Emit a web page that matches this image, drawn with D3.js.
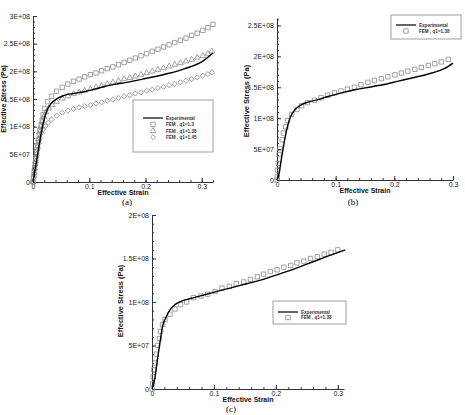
<!DOCTYPE html>
<html>
<head>
<meta charset="utf-8">
<script src="https://cdn.jsdelivr.net/npm/d3@7"></script>
<style>
body { margin: 0; background: #fff; }
svg { display: block; background: #fff; font-family: "Liberation Sans", Arial, sans-serif; }
</style>
</head>
<body>
<svg id="chart" width="465" height="415"></svg>
<script>
// ---- panel (a) : [effective strain, effective stress (Pa)]
var expA = [[0,0],[0.003,0.18e8],[0.0066,0.40e8],[0.0125,0.76e8],[0.018,1.06e8],[0.024,1.27e8],[0.03,1.39e8],
    [0.039,1.48e8],[0.054,1.56e8],[0.072,1.60e8],[0.09,1.63e8],[0.114,1.69e8],[0.1375,1.75e8],[0.167,1.80e8],
    [0.2,1.87e8],[0.24,1.96e8],[0.27,2.05e8],[0.3,2.17e8],[0.32,2.33e8]]

var squaresA = [[0,0],[0.001,0.08e8],[0.002,0.17e8],[0.003,0.25e8],[0.004,0.33e8],[0.005,0.42e8],[0.0065,0.54e8],
    [0.008,0.66e8],[0.0095,0.76e8],[0.011,0.86e8],[0.0125,0.94e8],[0.0145,1.03e8],[0.0165,1.12e8],[0.018,1.22e8],
    [0.021,1.33e8],[0.026,1.45e8],[0.033,1.55e8],[0.042,1.64e8],[0.052,1.71e8],[0.062,1.77e8],[0.072,1.82e8],
    [0.082,1.86e8],[0.092,1.90e8],[0.102,1.94e8],[0.112,1.97e8],[0.122,2.01e8],[0.132,2.05e8],[0.142,2.08e8],
    [0.152,2.12e8],[0.162,2.16e8],[0.172,2.20e8],[0.182,2.24e8],[0.192,2.28e8],[0.202,2.32e8],[0.212,2.36e8],
    [0.222,2.40e8],[0.232,2.44e8],[0.242,2.48e8],[0.252,2.52e8],[0.262,2.56e8],[0.272,2.60e8],[0.282,2.65e8],
    [0.292,2.69e8],[0.302,2.74e8],[0.311,2.79e8],[0.32,2.85e8]]

var trianglesA = [[0,0],[0.0015,0.12e8],[0.003,0.25e8],[0.0045,0.37e8],[0.006,0.5e8],[0.008,0.64e8],[0.01,0.78e8],
    [0.012,0.9e8],[0.014,1.0e8],[0.016,1.09e8],[0.019,1.18e8],[0.023,1.26e8],[0.028,1.33e8],[0.034,1.39e8],
    [0.042,1.45e8],[0.052,1.51e8],[0.062,1.55e8],[0.072,1.59e8],[0.082,1.62e8],[0.092,1.65e8],[0.102,1.68e8],
    [0.112,1.71e8],[0.122,1.74e8],[0.132,1.77e8],[0.142,1.80e8],[0.152,1.83e8],[0.162,1.86e8],[0.172,1.88e8],
    [0.182,1.91e8],[0.192,1.94e8],[0.202,1.97e8],[0.212,2.00e8],[0.222,2.03e8],[0.232,2.06e8],[0.242,2.09e8],
    [0.252,2.12e8],[0.262,2.15e8],[0.272,2.18e8],[0.282,2.21e8],[0.292,2.25e8],[0.302,2.28e8],[0.311,2.32e8],
    [0.318,2.36e8]]

var diamondsA = [[0,0],[0.002,0.15e8],[0.004,0.3e8],[0.006,0.45e8],[0.008,0.58e8],[0.01,0.7e8],[0.012,0.79e8],
    [0.015,0.88e8],[0.018,0.95e8],[0.022,1.01e8],[0.027,1.07e8],[0.033,1.13e8],[0.042,1.20e8],[0.052,1.25e8],
    [0.062,1.29e8],[0.072,1.32e8],[0.082,1.35e8],[0.092,1.37e8],[0.102,1.39e8],[0.112,1.42e8],[0.122,1.44e8],
    [0.132,1.47e8],[0.142,1.49e8],[0.152,1.52e8],[0.162,1.55e8],[0.172,1.57e8],[0.182,1.60e8],[0.192,1.62e8],
    [0.202,1.65e8],[0.212,1.67e8],[0.222,1.70e8],[0.232,1.72e8],[0.242,1.75e8],[0.252,1.77e8],[0.262,1.80e8],
    [0.272,1.83e8],[0.282,1.86e8],[0.292,1.89e8],[0.302,1.92e8],[0.311,1.95e8],[0.318,1.98e8]]

// ---- panel (b)
var expB = [[0,0],[0.003,0.08e8],[0.006,0.25e8],[0.011,0.54e8],[0.0165,0.81e8],[0.022,1.00e8],[0.027,1.09e8],
    [0.031,1.14e8],[0.042,1.22e8],[0.053,1.26e8],[0.07,1.30e8],[0.087,1.35e8],[0.11,1.41e8],[0.133,1.46e8],
    [0.15,1.49e8],[0.18,1.54e8],[0.207,1.60e8],[0.23,1.65e8],[0.264,1.73e8],[0.285,1.80e8],[0.3,1.89e8]]

var squaresB = [[0,0],[0.0005,0.05e8],[0.001,0.16e8],[0.002,0.27e8],[0.0035,0.41e8],[0.005,0.51e8],[0.009,0.65e8],
    [0.011,0.76e8],[0.015,0.86e8],[0.018,0.96e8],[0.025,1.06e8],[0.034,1.14e8],[0.042,1.20e8],[0.052,1.25e8],
    [0.064,1.29e8],[0.075,1.33e8],[0.086,1.37e8],[0.098,1.41e8],[0.109,1.44e8],[0.12,1.47e8],[0.132,1.50e8],
    [0.143,1.54e8],[0.155,1.58e8],[0.166,1.61e8],[0.178,1.64e8],[0.189,1.67e8],[0.201,1.70e8],[0.212,1.73e8],
    [0.223,1.76e8],[0.235,1.79e8],[0.246,1.82e8],[0.258,1.85e8],[0.269,1.88e8],[0.28,1.91e8],[0.292,1.95e8]]

// ---- panel (c)
var expC = [[0,0],[0.005,0.14e8],[0.0086,0.33e8],[0.013,0.54e8],[0.017,0.72e8],[0.023,0.83e8],[0.029,0.91e8],
    [0.037,0.97e8],[0.048,1.01e8],[0.062,1.04e8],[0.078,1.07e8],[0.099,1.11e8],[0.126,1.16e8],[0.153,1.21e8],
    [0.18,1.26e8],[0.205,1.32e8],[0.23,1.38e8],[0.259,1.46e8],[0.285,1.53e8],[0.312,1.60e8]]

var squaresC = [[0,0],[0.001,0.06e8],[0.002,0.14e8],[0.003,0.22e8],[0.005,0.30e8],[0.007,0.40e8],[0.009,0.50e8],
    [0.012,0.58e8],[0.014,0.66e8],[0.017,0.74e8],[0.021,0.80e8],[0.029,0.86e8],[0.037,0.92e8],[0.046,0.97e8],
    [0.056,1.00e8],[0.067,1.05e8],[0.079,1.07e8],[0.09,1.09e8],[0.102,1.12e8],[0.113,1.16e8],[0.125,1.18e8],
    [0.136,1.21e8],[0.148,1.23e8],[0.159,1.26e8],[0.17,1.29e8],[0.18,1.32e8],[0.191,1.35e8],[0.202,1.37e8],
    [0.213,1.40e8],[0.224,1.42e8],[0.234,1.45e8],[0.245,1.47e8],[0.256,1.50e8],[0.267,1.52e8],[0.278,1.55e8],
    [0.289,1.57e8],[0.3,1.60e8]]

// ---- ticks and labels
var xTicks = [0, 0.1, 0.2, 0.3]
var xTickLabels = ["0", "0.1", "0.2", "0.3"]
var yTicksA = [0, 5e7, 1e8, 1.5e8, 2e8, 2.5e8, 3e8]
var yTickLabelsA = ["0", "5E+07", "1E+08", "1.5E+08", "2E+08", "2.5E+08", "3E+08"]
var yTicksB = [0, 5e7, 1e8, 1.5e8, 2e8, 2.5e8]
var yTickLabelsB = ["0", "5E+07", "1E+08", "1.5E+08", "2E+08", "2.5E+08"]
var yTicksC = [0, 5e7, 1e8, 1.5e8, 2e8]
var yTickLabelsC = ["0", "5E+07", "1E+08", "1.5E+08", "2E+08"]

var seriesNames = ["Experimental", "FEM , q1=1.3", "FEM , q1=1.38", "FEM , q1=1.45"]

var svg = d3.select("#chart")
var axisColor = "#333"
var markerColor = "#8a8a8a"

var symbols = {
    square: d3.symbol().type(d3.symbolSquare).size(19),
    triangle: d3.symbol().type(d3.symbolTriangle).size(14),
    diamond: d3.symbol().type(d3.symbolSquare).size(13)
}

function drawMarker(g, kind, cx, cy) {
    g.append("path")
        .attr("d", symbols[kind]())
        .attr("transform", "translate(" + cx + "," + cy + ")" + (kind === "diamond" ? " rotate(45)" : ""))
        .attr("fill", "none")
        .attr("stroke", markerColor)
        .attr("stroke-width", 0.8)
}

function drawPanel(p) {
    var g = svg.append("g")

    var xScale = d3.scaleLinear().domain([0, p.xMax]).range([p.left, p.right])
    var yScale = d3.scaleLinear().domain([0, p.yMax]).range([p.bottom, p.top])

    // minor ticks
    g.append("g")
        .attr("transform", "translate(0," + p.bottom + ")")
        .call(d3.axisBottom(xScale).tickValues(d3.range(0.02, p.xMax + 1e-9, 0.02)).tickSize(-2).tickFormat(""))
        .call(a => a.select(".domain").remove())
    g.append("g")
        .attr("transform", "translate(" + p.left + ",0)")
        .call(d3.axisLeft(yScale).tickValues(d3.range(1e7, p.yMax + 1, 1e7)).tickSize(-2).tickFormat(""))
        .call(a => a.select(".domain").remove())

    var xAxis = d3.axisBottom(xScale)
        .tickValues(xTicks)
        .tickFormat((d, i) => xTickLabels[i])
        .tickSizeInner(-4)
        .tickSizeOuter(0)
        .tickPadding(2)
    var yAxis = d3.axisLeft(yScale)
        .tickValues(p.yTicks)
        .tickFormat((d, i) => p.yLabels[i])
        .tickSizeInner(-4)
        .tickSizeOuter(0)
        .tickPadding(3)

    g.append("g")
        .attr("transform", "translate(0," + p.bottom + ")")
        .call(xAxis)
    g.append("g")
        .attr("transform", "translate(" + p.left + ",0)")
        .call(yAxis)

    g.selectAll(".tick line").attr("stroke", axisColor)
    g.selectAll(".domain").attr("stroke", axisColor).attr("stroke-width", 1)
    g.selectAll(".tick text").attr("fill", "#222").attr("font-size", "7px")
        .attr("font-family", "\"Liberation Sans\", Arial, sans-serif")

    // markers
    p.markers.forEach(function (m) {
        m.data.forEach(function (d) {
            drawMarker(g, m.kind, xScale(d[0]), yScale(d[1]))
        })
    })

    // experimental curve
    var line = d3.line()
        .x(d => xScale(d[0]))
        .y(d => yScale(d[1]))
        .curve(d3.curveMonotoneX)
    g.append("path")
        .datum(p.exp)
        .attr("d", line)
        .attr("fill", "none")
        .attr("stroke", "#000")
        .attr("stroke-width", 1.4)

    // axis titles
    g.append("text")
        .attr("x", (p.left + p.right) / 2)
        .attr("y", p.bottom + 13)
        .attr("text-anchor", "middle")
        .attr("font-size", "7px")
        .attr("font-weight", "bold")
        .attr("fill", "#111")
        .text("Effective Strain")
    g.append("text")
        .attr("transform", "translate(" + p.yTitleX + "," + p.yTitleY + ") rotate(-90)")
        .attr("text-anchor", "middle")
        .attr("font-size", p.yTitleSize)
        .attr("font-weight", "bold")
        .attr("fill", "#111")
        .text("Effective Stress (Pa)")

    // caption
    g.append("text")
        .attr("x", p.capX)
        .attr("y", p.capY)
        .attr("text-anchor", "middle")
        .attr("font-family", "\"Liberation Serif\", \"Times New Roman\", serif")
        .attr("font-size", "9px")
        .text(p.caption)

    // legend
    var L = p.legend
    g.append("rect")
        .attr("x", L.x).attr("y", L.y)
        .attr("width", L.w).attr("height", L.h)
        .attr("fill", "#fff")
        .attr("stroke", "#888")
        .attr("stroke-width", 0.8)
    var rows = [{ name: seriesNames[0], kind: "line" }].concat(p.markers.map(m => ({ name: m.name, kind: m.kind })))
    rows.forEach(function (r, i) {
        var ry = L.y + L.rowTop + i * L.rowGap
        if (r.kind === "line") {
            g.append("line")
                .attr("x1", L.x + L.lineX).attr("x2", L.x + L.lineX + 20)
                .attr("y1", ry).attr("y2", ry)
                .attr("stroke", "#000").attr("stroke-width", 1.2)
        } else {
            drawMarker(g, r.kind, L.x + L.lineX + 10, ry)
        }
        g.append("text")
            .attr("x", L.x + L.lineX + 23)
            .attr("y", ry + 1.7)
            .attr("font-size", "4.6px")
            .attr("font-weight", "bold")
            .attr("fill", "#333")
            .text(r.name)
    })
}

drawPanel({
    left: 33, right: 213, bottom: 182, top: 16, xMax: 0.32, yMax: 3e8,
    yTicks: yTicksA, yLabels: yTickLabelsA,
    exp: expA,
    markers: [
        { kind: "square", data: squaresA, name: seriesNames[1] },
        { kind: "triangle", data: trianglesA, name: seriesNames[2] },
        { kind: "diamond", data: diamondsA, name: seriesNames[3] }
    ],
    yTitleX: 5.5, yTitleY: 99, yTitleSize: "7px",
    caption: "(a)", capX: 127, capY: 205,
    legend: { x: 133, y: 100, w: 80, h: 52, rowTop: 18, rowGap: 6.4, lineX: 10 }
})

drawPanel({
    left: 277, right: 453, bottom: 180, top: 18, xMax: 0.3, yMax: 2.62e8,
    yTicks: yTicksB, yLabels: yTickLabelsB,
    exp: expB,
    markers: [{ kind: "square", data: squaresB, name: "FEM , q1=1.38" }],
    yTitleX: 248.5, yTitleY: 101, yTitleSize: "7.5px",
    caption: "(b)", capX: 353, capY: 205,
    legend: { x: 391, y: 15, w: 70, h: 24, rowTop: 10, rowGap: 6, lineX: 5 }
})

drawPanel({
    left: 152, right: 344, bottom: 389, top: 215, xMax: 0.31, yMax: 2e8,
    yTicks: yTicksC, yLabels: yTickLabelsC,
    exp: expC,
    markers: [{ kind: "square", data: squaresC, name: "FEM , q1=1.38" }],
    yTitleX: 122.5, yTitleY: 301, yTitleSize: "7.5px",
    caption: "(c)", capX: 231, capY: 412,
    legend: { x: 273, y: 301, w: 73, h: 23, rowTop: 11, rowGap: 5.5, lineX: 5 }
})
</script>
</body>
</html>
